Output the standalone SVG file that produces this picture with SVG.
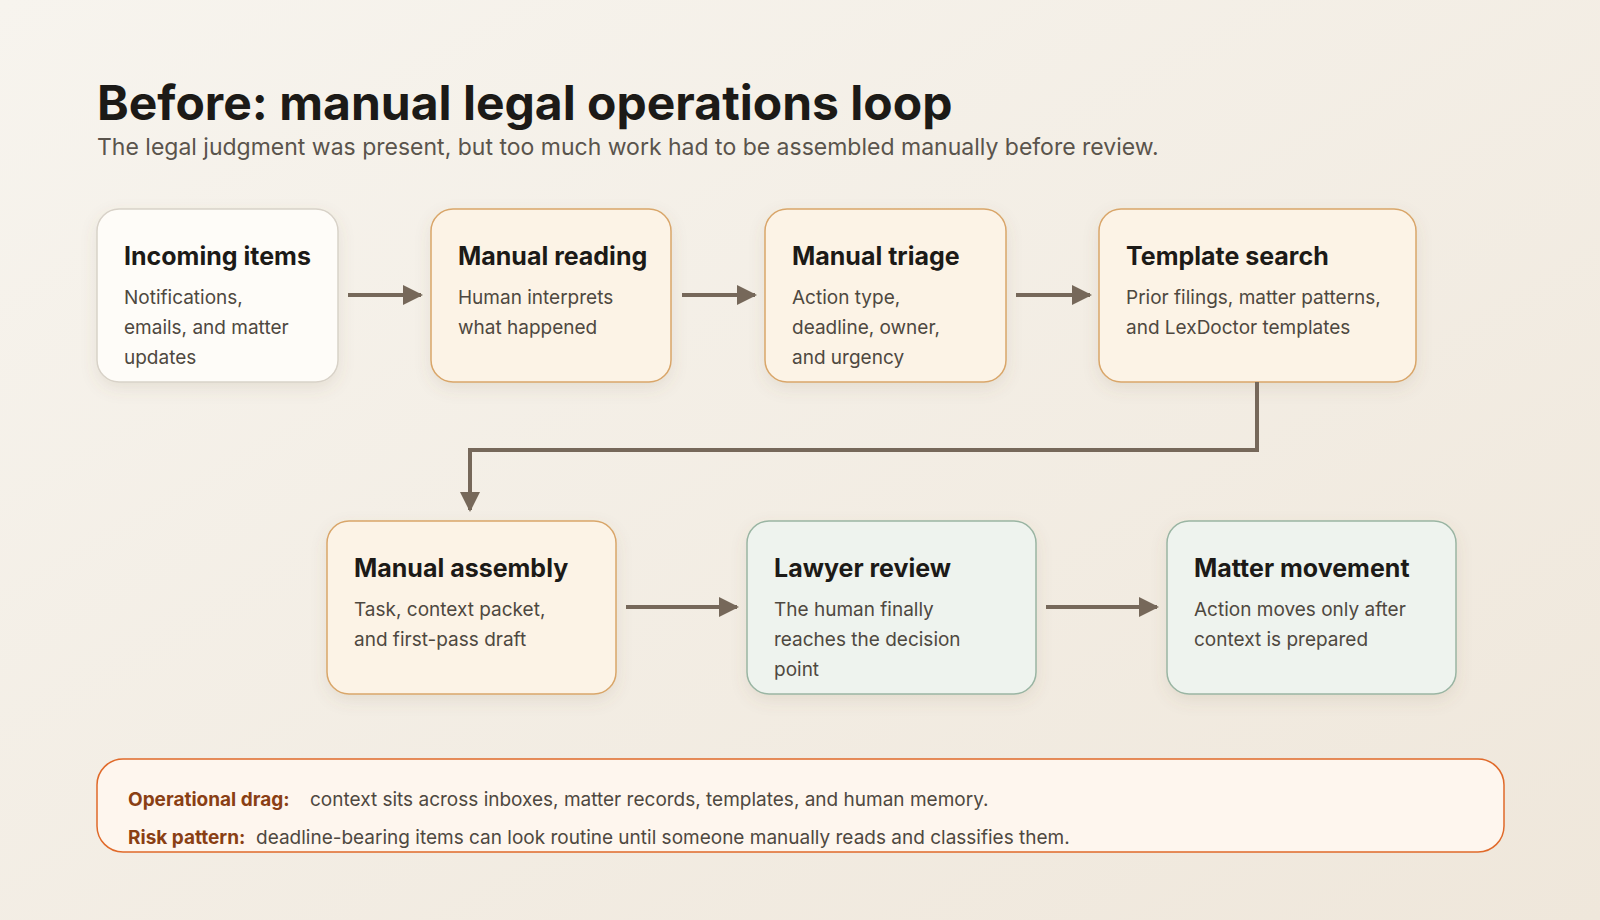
<svg xmlns="http://www.w3.org/2000/svg" width="1600" height="920" viewBox="0 0 1600 920">
<defs>
<linearGradient id="bg" x1="0" y1="0" x2="1" y2="1"><stop offset="0" stop-color="#f7f4ee"/><stop offset="1" stop-color="#efe7db"/></linearGradient>
<marker id="ah" viewBox="0 0 10 10" refX="9" refY="5" markerWidth="5" markerHeight="5" orient="auto"><path d="M0,0 L10,5 L0,10 z" fill="#76685a"/></marker>
<filter id="sh" x="-20%" y="-20%" width="140%" height="150%"><feDropShadow dx="0" dy="6" stdDeviation="8" flood-color="#7a6040" flood-opacity="0.12"/></filter>
<style>
text{font-family:Inter,"Noto Sans",sans-serif}
.t{font-size:25px;font-weight:700;fill:#1c1a17}
.b{font-size:19px;fill:#4e4840}
.w{fill:#fefcf8;stroke:#d8d2c8;stroke-width:1.5}
.o{fill:#fcf3e6;stroke:#d9a66a;stroke-width:1.5}
.g{fill:#eef3ee;stroke:#9ab5a3;stroke-width:1.5}
.c{fill:none;stroke:#76685a;stroke-width:4;marker-end:url(#ah)}
.l{font-size:19px;font-weight:700;fill:#8a3f14}
</style>
</defs>
<rect width="1600" height="920" fill="url(#bg)"/>
<text x="97" y="120" style="font-size:48px;font-weight:700;fill:#1c1a17">Before: manual legal operations loop</text>
<text x="97" y="155" style="font-size:23px;fill:#5a544c">The legal judgment was present, but too much work had to be assembled manually before review.</text>
<g id="n1"><rect class="w" filter="url(#sh)" x="97" y="209" width="241" height="173" rx="22"/><text class="t" x="124" y="265">Incoming items</text><text class="b" x="124" y="304">Notifications,</text><text class="b" x="124" y="334">emails, and matter</text><text class="b" x="124" y="364">updates</text></g>
<g id="n2"><rect class="o" filter="url(#sh)" x="431" y="209" width="240" height="173" rx="22"/><text class="t" x="458" y="265">Manual reading</text><text class="b" x="458" y="304">Human interprets</text><text class="b" x="458" y="334">what happened</text></g>
<g id="n3"><rect class="o" filter="url(#sh)" x="765" y="209" width="241" height="173" rx="22"/><text class="t" x="792" y="265">Manual triage</text><text class="b" x="792" y="304">Action type,</text><text class="b" x="792" y="334">deadline, owner,</text><text class="b" x="792" y="364">and urgency</text></g>
<g id="n4"><rect class="o" filter="url(#sh)" x="1099" y="209" width="317" height="173" rx="22"/><text class="t" x="1126" y="265">Template search</text><text class="b" x="1126" y="304">Prior filings, matter patterns,</text><text class="b" x="1126" y="334">and LexDoctor templates</text></g>
<g id="n5"><rect class="o" filter="url(#sh)" x="327" y="521" width="289" height="173" rx="22"/><text class="t" x="354" y="577">Manual assembly</text><text class="b" x="354" y="616">Task, context packet,</text><text class="b" x="354" y="646">and first-pass draft</text></g>
<g id="n6"><rect class="g" filter="url(#sh)" x="747" y="521" width="289" height="173" rx="22"/><text class="t" x="774" y="577">Lawyer review</text><text class="b" x="774" y="616">The human finally</text><text class="b" x="774" y="646">reaches the decision</text><text class="b" x="774" y="676">point</text></g>
<g id="n7"><rect class="g" filter="url(#sh)" x="1167" y="521" width="289" height="173" rx="22"/><text class="t" x="1194" y="577">Matter movement</text><text class="b" x="1194" y="616">Action moves only after</text><text class="b" x="1194" y="646">context is prepared</text></g>
<g id="connectors">
<path class="c" d="M348,295 H421"/>
<path class="c" d="M682,295 H755"/>
<path class="c" d="M1016,295 H1090"/>
<path class="c" d="M1257,382 V450 H470 V510"/>
<path class="c" d="M626,607 H737"/>
<path class="c" d="M1046,607 H1157"/>
</g>
<g id="note"><rect x="97" y="759" width="1407" height="93" rx="26" fill="#fef6ee" stroke="#e06a2a" stroke-width="1.5"/>
<text x="128" y="806" class="l">Operational drag:</text><text x="310" y="806" style="font-size:19px;fill:#4e4840">context sits across inboxes, matter records, templates, and human memory.</text>
<text x="128" y="844" class="l">Risk pattern:</text><text x="256" y="844" style="font-size:19px;fill:#4e4840">deadline-bearing items can look routine until someone manually reads and classifies them.</text></g>
</svg>
